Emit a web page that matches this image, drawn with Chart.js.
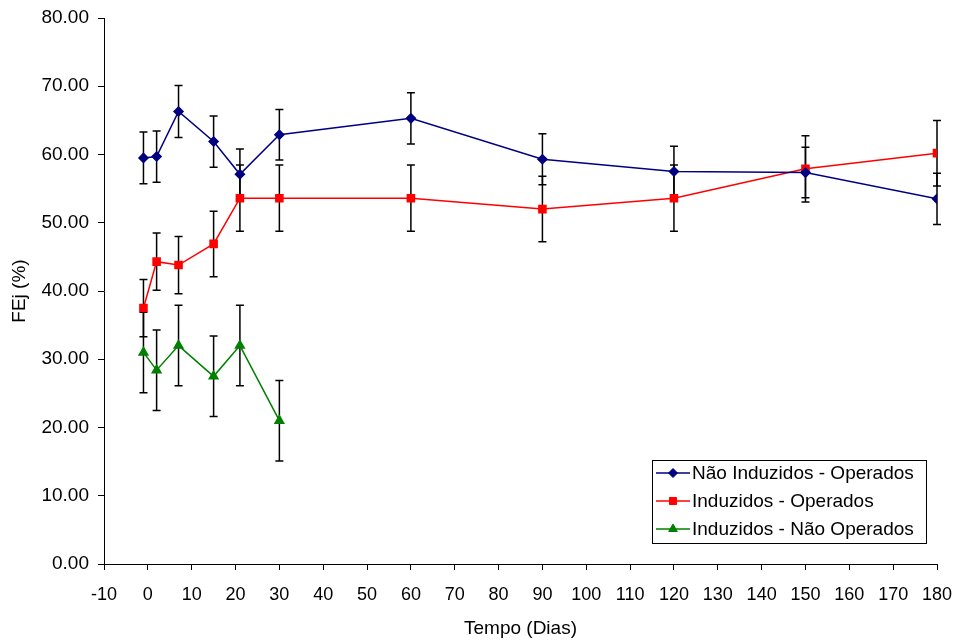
<!DOCTYPE html>
<html>
<head>
<meta charset="utf-8">
<script src="https://cdn.jsdelivr.net/npm/chart.js@4.4.1/dist/chart.umd.min.js"></script>
<style>
  html, body { margin: 0; padding: 0; background: #fff; }
  #wrap { width: 956px; height: 640px; position: relative; }
</style>
</head>
<body>
<div id="wrap"><canvas id="c" width="956" height="640"></canvas></div>
<script>
// ---- Data ----
const days = [-1, 2, 7, 15, 21, 30, 60, 90, 120, 150, 180];
const daysNaoOperados = [-1, 2, 7, 15, 21, 30];

const naoInduzidosOperados    = [59.5, 59.7, 66.3, 61.9, 57.1, 62.9, 65.3, 59.3, 57.5, 57.35, 53.5];
const naoInduzidosOperadosErr = [3.8, 3.75, 3.8, 3.75, 3.7, 3.7, 3.75, 3.75, 3.7, 3.7, 3.75];

const induzidosOperados    = [37.5, 44.3, 43.8, 46.9, 53.6, 53.6, 53.6, 52.0, 53.6, 57.9, 60.2];
const induzidosOperadosErr = [4.2, 4.2, 4.2, 4.8, 4.85, 4.85, 4.85, 4.8, 4.85, 4.85, 4.8];

const induzidosNaoOperados    = [31.0, 28.4, 32.0, 27.5, 32.0, 21.0];
const induzidosNaoOperadosErr = [5.9, 5.9, 5.9, 5.9, 5.9, 5.9];

const seriesLabels = ['Não Induzidos - Operados', 'Induzidos - Operados', 'Induzidos - Não Operados'];
const xTitle = 'Tempo (Dias)';
const yTitle = 'FEj (%)';

const FONT = '"Liberation Sans", Arial, sans-serif';

function pts(xs, ys) { return xs.map((x, i) => ({ x: x, y: ys[i] })); }

const errorBars = {
  id: 'errorBars',
  beforeDatasetsDraw(chart) {
    const ctx = chart.ctx;
    const xs = chart.scales.x, ys = chart.scales.y;
    ctx.save();
    ctx.strokeStyle = '#000';
    ctx.lineWidth = 1.5;
    chart.data.datasets.forEach(ds => {
      ds.data.forEach((p, i) => {
        const e = ds.errors[i];
        const px = xs.getPixelForValue(p.x);
        const top = ys.getPixelForValue(p.y + e);
        const bot = ys.getPixelForValue(p.y - e);
        ctx.beginPath();
        ctx.moveTo(px, top); ctx.lineTo(px, bot);
        ctx.moveTo(px - 4, top); ctx.lineTo(px + 4, top);
        ctx.moveTo(px - 4, bot); ctx.lineTo(px + 4, bot);
        ctx.stroke();
      });
    });
    ctx.restore();
  }
};

const boxLegend = {
  id: 'boxLegend',
  afterDraw(chart) {
    const ctx = chart.ctx;
    const bx = 652.5, by = 460.5, bw = 274, bh = 83;
    ctx.save();
    ctx.fillStyle = '#fff';
    ctx.fillRect(bx, by, bw, bh);
    ctx.strokeStyle = '#000';
    ctx.lineWidth = 1;
    ctx.strokeRect(bx, by, bw, bh);
    ctx.font = '19px ' + FONT;
    ctx.textBaseline = 'middle';
    ctx.textAlign = 'left';
    const rows = [473, 501, 529];
    chart.data.datasets.forEach((ds, i) => {
      const y = rows[i];
      ctx.strokeStyle = ds.borderColor;
      ctx.lineWidth = 1.5;
      ctx.beginPath();
      ctx.moveTo(656, y); ctx.lineTo(690, y);
      ctx.stroke();
      ctx.fillStyle = ds.pointBackgroundColor;
      ctx.strokeStyle = ds.pointBorderColor;
      ctx.lineWidth = 1;
      Chart.helpers.drawPoint(ctx, {
        pointStyle: ds.pointStyle, radius: ds.pointRadius, rotation: 0, borderWidth: 1
      }, 673, y);
      ctx.fillStyle = '#000';
      ctx.fillText(ds.label, 692, y + 1);
    });
    ctx.restore();
  }
};

new Chart(document.getElementById('c'), {
  type: 'line',
  data: {
    datasets: [
      {
        label: seriesLabels[0],
        data: pts(days, naoInduzidosOperados),
        errors: naoInduzidosOperadosErr,
        borderColor: '#000080', backgroundColor: '#000080',
        pointBackgroundColor: '#000080', pointBorderColor: '#000080',
        pointStyle: 'rectRot', pointRadius: 4.5, borderWidth: 1.5, tension: 0
      },
      {
        label: seriesLabels[1],
        data: pts(days, induzidosOperados),
        errors: induzidosOperadosErr,
        borderColor: '#FF0000', backgroundColor: '#FF0000',
        pointBackgroundColor: '#FF0000', pointBorderColor: '#FF0000',
        pointStyle: 'rect', pointRadius: 5, borderWidth: 1.5, tension: 0
      },
      {
        label: seriesLabels[2],
        data: pts(daysNaoOperados, induzidosNaoOperados),
        errors: induzidosNaoOperadosErr,
        borderColor: '#008000', backgroundColor: '#008000',
        pointBackgroundColor: '#008000', pointBorderColor: '#008000',
        pointStyle: 'triangle', pointRadius: 5, borderWidth: 1.5, tension: 0
      }
    ]
  },
  options: {
    responsive: false,
    animation: false,
    devicePixelRatio: 1,
    layout: { padding: { left: 0, right: 19, top: 18, bottom: 0 } },
    plugins: { legend: { display: false }, tooltip: { enabled: false } },
    elements: { point: { hoverRadius: 5 } },
    scales: {
      x: {
        type: 'linear',
        min: -10, max: 180,
        ticks: { stepSize: 10, color: '#000', font: { family: FONT, size: 18 }, padding: 14, maxRotation: 0, autoSkip: false },
        grid: { drawOnChartArea: false, drawTicks: true, tickLength: 6, color: '#000' },
        border: { color: '#000', width: 1 },
        title: { display: true, text: xTitle, color: '#000', font: { family: FONT, size: 19 }, padding: { top: 4, bottom: 0 } },
        afterFit(scale) { scale.height = 76; scale.paddingLeft = 0; scale.paddingRight = 0; }
      },
      y: {
        min: 0, max: 80,
        ticks: { stepSize: 10, color: '#000', font: { family: FONT, size: 19 }, padding: 9,
          callback: v => Number(v).toFixed(2) },
        grid: { drawOnChartArea: false, drawTicks: true, tickLength: 6, color: '#000' },
        border: { color: '#000', width: 1 },
        title: { display: true, text: yTitle, color: '#000', font: { family: FONT, size: 19 }, padding: { top: 8, bottom: 4 } },
        afterFit(scale) { scale.width = 104; scale.paddingTop = 0; scale.paddingBottom = 0; }
      }
    }
  },
  plugins: [errorBars, boxLegend]
});
</script>
</body>
</html>
